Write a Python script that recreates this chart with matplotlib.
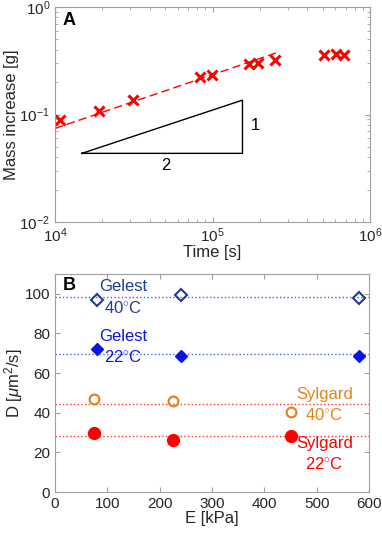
import numpy as np
import matplotlib
matplotlib.use("Agg")
import matplotlib.pyplot as plt

plt.rcParams['font.family'] = ['Liberation Sans', 'DejaVu Sans']
plt.rcParams['mathtext.fontset'] = 'custom'
plt.rcParams['mathtext.rm'] = 'Liberation Sans'
plt.rcParams['mathtext.it'] = 'Liberation Sans:italic'

# ---- data: panel A ----
time_s = [1.08e4, 1.91e4, 3.13e4, 8.37e4, 9.93e4, 1.71e5, 1.94e5, 2.51e5, 5.1e5, 6.08e5, 6.87e5]
mass_g = [0.089, 0.108, 0.137, 0.223, 0.235, 0.293, 0.301, 0.32, 0.357, 0.368, 0.36]
n_fit = 8        # points used for the sqrt(t) fit
fit_exp = 0.5
fit_range = [1.0e4, 2.55e5]
tri_x = [1.48e4, 1.55e5]
tri_y = [0.0435, 0.136]

# ---- data: panel B ----
E_gel = [80, 240, 580]
D_gel40 = [97.1, 99.5, 98.0]
D_gel22 = [72.0, 68.5, 68.8]
E_syl = [75, 225, 450]
D_syl40 = [47.0, 46.0, 40.3]
D_syl22 = [29.9, 26.3, 28.4]

GRAY = '#262626'
BOX = '#a0a0a0'
navy = '#233a97'
blue = '#0a14e6'
orange = '#e0861c'
red = '#ff0000'
FS = 12

def style(ax):
    for s in ax.spines.values():
        s.set_color(BOX)
        s.set_linewidth(0.8)
    ax.tick_params(which='both', direction='in', top=True, right=True,
                   colors=BOX, labelcolor=GRAY, labelsize=11)
    ax.tick_params(which='major', length=3.5)
    ax.tick_params(which='minor', length=2)

fig = plt.figure(figsize=(3.82, 5.34), dpi=100)

# ---- A ----
ax = fig.add_axes([55/382, 1-222/534, 315/382, 215/534])
ax.set_xscale('log')
ax.set_yscale('log')
ax.plot(time_s, mass_g, 'x', color=red, ms=6.5, mew=2.2)
t = np.array(time_s[:n_fit])
m = np.array(mass_g[:n_fit])
pref = np.exp(np.mean(np.log(m / t**fit_exp)))
tf = np.logspace(np.log10(fit_range[0]), np.log10(fit_range[1]), 50)
ax.plot(tf, pref * tf**fit_exp, '--', color=red, lw=1, dashes=(6, 3))
ax.plot([tri_x[0], tri_x[1], tri_x[1], tri_x[0]], [tri_y[0], tri_y[0], tri_y[1], tri_y[0]],
        color='k', lw=1)
ax.text(np.sqrt(tri_x[0]*tri_x[1]) * 1.05, tri_y[0]*0.9, '2', ha='center', va='top', fontsize=FS)
ax.text(tri_x[1]*1.13, np.sqrt(tri_y[0]*tri_y[1]) * 1.03, '1', ha='left', va='center', fontsize=FS)
ax.set_xlim(1e4, 1e6)
ax.set_ylim(1e-2, 1e0)
ax.set_xlabel('Time [s]', fontsize=FS, color=GRAY, labelpad=0)
ax.set_ylabel('Mass increase [g]', fontsize=FS, color=GRAY, labelpad=0)
ax.text(0.025, 0.975, 'A', transform=ax.transAxes, fontsize=13, fontweight='bold',
        ha='left', va='top')
style(ax)

# ---- B ----
bx = fig.add_axes([55/382, 1-492/534, 314/382, 218/534])
bx.axhline(np.mean(D_gel40), color='#4a5ef0', ls=':', lw=1)
bx.axhline(np.mean(D_gel22), color='#4a5ef0', ls=':', lw=1)
bx.axhline(np.mean(D_syl40), color='#ff3030', ls=':', lw=1)
bx.axhline(np.mean(D_syl22), color='#ff3030', ls=':', lw=1)
bx.plot(E_gel, D_gel40, 'D', mfc='none', mec=navy, mew=1.5, ms=6)
bx.plot(E_gel, D_gel22, 'D', color=blue, ms=6.5)
bx.plot(E_syl, D_syl40, 'o', mfc='none', mec=orange, mew=1.6, ms=7)
bx.plot(E_syl, D_syl22, 'o', color=red, ms=8.5)
bx.text(131, 103.5, 'Gelest', color=navy, fontsize=FS, ha='center', va='center')
bx.text(131, 93, r'40$^{\circ}$C', color=navy, fontsize=FS, ha='center', va='center')
bx.text(131, 78.5, 'Gelest', color=blue, fontsize=FS, ha='center', va='center')
bx.text(131, 68, r'22$^{\circ}$C', color=blue, fontsize=FS, ha='center', va='center')
bx.text(515, 49, 'Sylgard', color=orange, fontsize=FS, ha='center', va='center')
bx.text(515, 39, r'40$^{\circ}$C', color=orange, fontsize=FS, ha='center', va='center')
bx.text(515, 24.3, 'Sylgard', color=red, fontsize=FS, ha='center', va='center')
bx.text(515, 14, r'22$^{\circ}$C', color=red, fontsize=FS, ha='center', va='center')
bx.set_xlim(0, 600)
bx.set_ylim(0, 110)
bx.set_xticks(np.arange(0, 601, 100))
bx.set_yticks(np.arange(0, 101, 20))
bx.set_xlabel('E [kPa]', fontsize=FS, color=GRAY, labelpad=0)
bx.set_ylabel(r'D [$\mu$m$^2$/s]', fontsize=FS, color=GRAY, labelpad=0)
bx.text(0.025, 0.985, 'B', transform=bx.transAxes, fontsize=13, fontweight='bold',
        ha='left', va='top')
style(bx)

fig.savefig('out.png', dpi=100)
